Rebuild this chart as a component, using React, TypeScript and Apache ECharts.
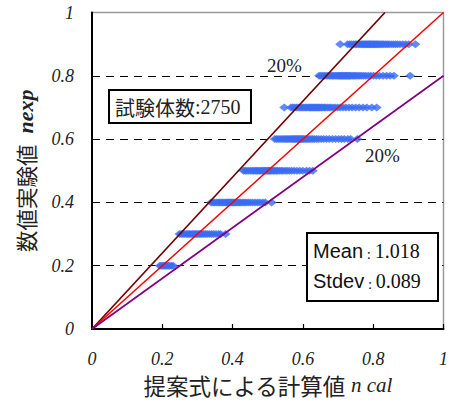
import { useEffect, useRef } from 'react';
import * as echarts from 'echarts';

// Axis ticks
const xTicks = [0, 0.2, 0.4, 0.6, 0.8, 1];
const yTicks = [0, 0.2, 0.4, 0.6, 0.8, 1];

// Horizontal bands of experiment results (nexp level) with calculated n cal values
const band02 = [0.193, 0.197, 0.201, 0.205, 0.209, 0.213, 0.217, 0.221, 0.226, 0.231];
const band03 = [0.249, 0.254, 0.259, 0.264, 0.269, 0.273, 0.277, 0.281, 0.285, 0.289, 0.293, 0.297, 0.301, 0.305, 0.309, 0.313, 0.318, 0.323, 0.328, 0.334, 0.340, 0.346, 0.353, 0.360, 0.366, 0.380];
const band04 = [0.339, 0.344, 0.349, 0.354, 0.359, 0.363, 0.367, 0.371, 0.375, 0.379, 0.383, 0.386, 0.389, 0.392, 0.395, 0.398, 0.401, 0.404, 0.407, 0.411, 0.415, 0.419, 0.423, 0.428, 0.433, 0.438, 0.444, 0.450, 0.457, 0.464, 0.471, 0.478, 0.486, 0.493, 0.511];
const band05 = [0.431, 0.436, 0.441, 0.446, 0.451, 0.456, 0.460, 0.464, 0.468, 0.472, 0.476, 0.480, 0.484, 0.487, 0.490, 0.493, 0.496, 0.499, 0.502, 0.505, 0.508, 0.512, 0.516, 0.520, 0.524, 0.528, 0.533, 0.538, 0.543, 0.549, 0.555, 0.561, 0.568, 0.575, 0.583, 0.591, 0.600, 0.610, 0.619, 0.628];
const band06 = [0.520, 0.525, 0.530, 0.535, 0.540, 0.545, 0.549, 0.553, 0.557, 0.561, 0.565, 0.569, 0.572, 0.575, 0.578, 0.581, 0.584, 0.587, 0.590, 0.593, 0.596, 0.599, 0.602, 0.606, 0.610, 0.614, 0.618, 0.623, 0.628, 0.633, 0.639, 0.645, 0.652, 0.659, 0.667, 0.675, 0.684, 0.693, 0.702, 0.710, 0.718, 0.728, 0.736, 0.755];
const band07 = [0.547, 0.566, 0.571, 0.576, 0.581, 0.586, 0.591, 0.595, 0.599, 0.603, 0.607, 0.611, 0.615, 0.619, 0.622, 0.625, 0.628, 0.631, 0.634, 0.637, 0.640, 0.643, 0.646, 0.649, 0.653, 0.657, 0.661, 0.665, 0.670, 0.675, 0.680, 0.686, 0.692, 0.699, 0.706, 0.714, 0.722, 0.731, 0.740, 0.750, 0.760, 0.771, 0.782, 0.796, 0.810];
const band08 = [0.646, 0.651, 0.656, 0.661, 0.666, 0.671, 0.676, 0.680, 0.684, 0.688, 0.692, 0.696, 0.700, 0.703, 0.706, 0.709, 0.712, 0.715, 0.718, 0.721, 0.724, 0.727, 0.730, 0.733, 0.736, 0.740, 0.744, 0.748, 0.752, 0.757, 0.762, 0.767, 0.773, 0.779, 0.786, 0.793, 0.801, 0.809, 0.818, 0.828, 0.838, 0.848, 0.859, 0.905];
const band09 = [0.706, 0.727, 0.733, 0.738, 0.744, 0.749, 0.753, 0.758, 0.762, 0.766, 0.769, 0.773, 0.776, 0.779, 0.782, 0.785, 0.788, 0.790, 0.793, 0.796, 0.799, 0.802, 0.805, 0.808, 0.811, 0.814, 0.818, 0.822, 0.826, 0.830, 0.835, 0.840, 0.845, 0.851, 0.857, 0.863, 0.869, 0.876, 0.884, 0.892, 0.901, 0.920];

const bandLevels = [0.2, 0.3, 0.4, 0.5, 0.6, 0.7, 0.8, 0.9];
const bands = [band02, band03, band04, band05, band06, band07, band08, band09];

// Reference lines: +20%, equal, -20%
const linePlus20 = [[0, 0], [0.8333, 1]];
const lineEqual = [[0, 0], [1, 1]];
const lineMinus20 = [[0, 0], [1, 0.8]];

const specimenText = '試験体数';
const specimenCount = '2750';
const meanValue = '1.018';
const stdevValue = '0.089';

const SERIF = 'Liberation Serif, Times New Roman, serif';
const SANS = 'Liberation Sans, Arial, sans-serif';
const CJK = 'Noto Sans CJK JP, sans-serif';

export default function App() {
  const ref = useRef<HTMLDivElement>(null);
  useEffect(() => {
    const chart = echarts.init(ref.current!, null, { renderer: 'svg' });
    const points: number[][] = [];
    bands.forEach((b, i) => b.forEach((x) => points.push([x, bandLevels[i]])));
    chart.setOption({
      animation: false,
      backgroundColor: '#ffffff',
      grid: {
        left: 92, right: 4, top: 12.5, bottom: 79,
        show: true, borderColor: '#9a9a9a', borderWidth: 1.5, backgroundColor: 'transparent',
      },
      xAxis: {
        type: 'value', min: xTicks[0], max: xTicks[xTicks.length - 1], interval: 0.2,
        axisLine: { show: true, onZero: false, lineStyle: { color: '#000', width: 2 } },
        axisTick: { show: true, inside: true, length: 5, lineStyle: { color: '#000', width: 1.2 } },
        splitLine: { show: false },
        axisLabel: { margin: 21, fontFamily: SERIF, fontStyle: 'italic', fontSize: 18, color: '#222' },
        name: '{a|提案式による計算値}{b| n cal}',
        nameLocation: 'middle', nameGap: 45,
        nameTextStyle: {
          rich: {
            a: { fontFamily: CJK, fontSize: 22.5, color: '#222' },
            b: { fontFamily: SERIF, fontStyle: 'italic', fontSize: 21, color: '#222' },
          },
        },
      },
      yAxis: {
        type: 'value', min: yTicks[0], max: yTicks[yTicks.length - 1], interval: 0.2,
        axisLine: { show: true, onZero: false, lineStyle: { color: '#000', width: 2 } },
        axisTick: { show: false },
        splitLine: { show: true, showMinLine: false, showMaxLine: false, lineStyle: { color: '#000', width: 1, type: [8, 6] } },
        axisLabel: { margin: 18, fontFamily: SERIF, fontStyle: 'italic', fontSize: 18, color: '#222' },
        name: '{a|数値実験値}{b|  nexp}',
        nameLocation: 'middle', nameGap: 56, nameRotate: 90,
        nameTextStyle: {
          rich: {
            a: { fontFamily: CJK, fontSize: 21.5, color: '#222' },
            b: { fontFamily: SERIF, fontStyle: 'italic', fontWeight: 'bold', fontSize: 22, color: '#222' },
          },
        },
      },
      series: [
        {
          type: 'scatter', data: points, symbol: 'diamond', symbolSize: [10, 8],
          itemStyle: { color: '#3b6cf5' }, z: 2, silent: true,
        },
        { type: 'line', data: linePlus20, symbol: 'none', lineStyle: { color: '#700000', width: 1.7 }, z: 3, silent: true },
        { type: 'line', data: lineEqual, symbol: 'none', lineStyle: { color: '#ff0000', width: 1.6 }, z: 3, silent: true },
        { type: 'line', data: lineMinus20, symbol: 'none', lineStyle: { color: '#800080', width: 1.7 }, z: 3, silent: true },
      ],
      graphic: [
        { type: 'rect', shape: { x: 109, y: 90, width: 142, height: 33 }, style: { fill: '#fff', stroke: '#000', lineWidth: 2 }, z: 10 },
        {
          type: 'text', x: 115, y: 107, z: 11,
          style: {
            text: `{a|${specimenText}}{b|:${specimenCount}}`, verticalAlign: 'middle',
            rich: {
              a: { fontFamily: CJK, fontSize: 20, fill: '#222' },
              b: { fontFamily: SERIF, fontSize: 20, fill: '#222' },
            },
          },
        },
        { type: 'rect', shape: { x: 307, y: 233, width: 131, height: 68 }, style: { fill: '#fff', stroke: '#000', lineWidth: 2 }, z: 10 },
        {
          type: 'text', x: 313, y: 251, z: 11,
          style: {
            text: `{s|Mean}{c| : }{t|${meanValue}}`, verticalAlign: 'middle',
            rich: {
              s: { fontFamily: SANS, fontSize: 20, fill: '#111' },
              c: { fontFamily: SERIF, fontSize: 15, fill: '#111', padding: [6, 0, 0, 0] },
              t: { fontFamily: SERIF, fontSize: 20, fill: '#111' },
            },
          },
        },
        {
          type: 'text', x: 313, y: 281, z: 11,
          style: {
            text: `{s|Stdev}{c| : }{t|${stdevValue}}`, verticalAlign: 'middle',
            rich: {
              s: { fontFamily: SANS, fontSize: 20, fill: '#111' },
              c: { fontFamily: SERIF, fontSize: 15, fill: '#111', padding: [6, 0, 0, 0] },
              t: { fontFamily: SERIF, fontSize: 20, fill: '#111' },
            },
          },
        },
        { type: 'text', x: 267, y: 65, z: 11, style: { text: '20%', fontFamily: SERIF, fontSize: 19, fill: '#222', verticalAlign: 'middle' } },
        { type: 'text', x: 365, y: 155, z: 11, style: { text: '20%', fontFamily: SERIF, fontSize: 19, fill: '#222', verticalAlign: 'middle' } },
      ],
    });
    return () => chart.dispose();
  }, []);
  return <div ref={ref} style={{ position: 'absolute', left: 0, top: 0, width: 451, height: 408 }} />;
}
